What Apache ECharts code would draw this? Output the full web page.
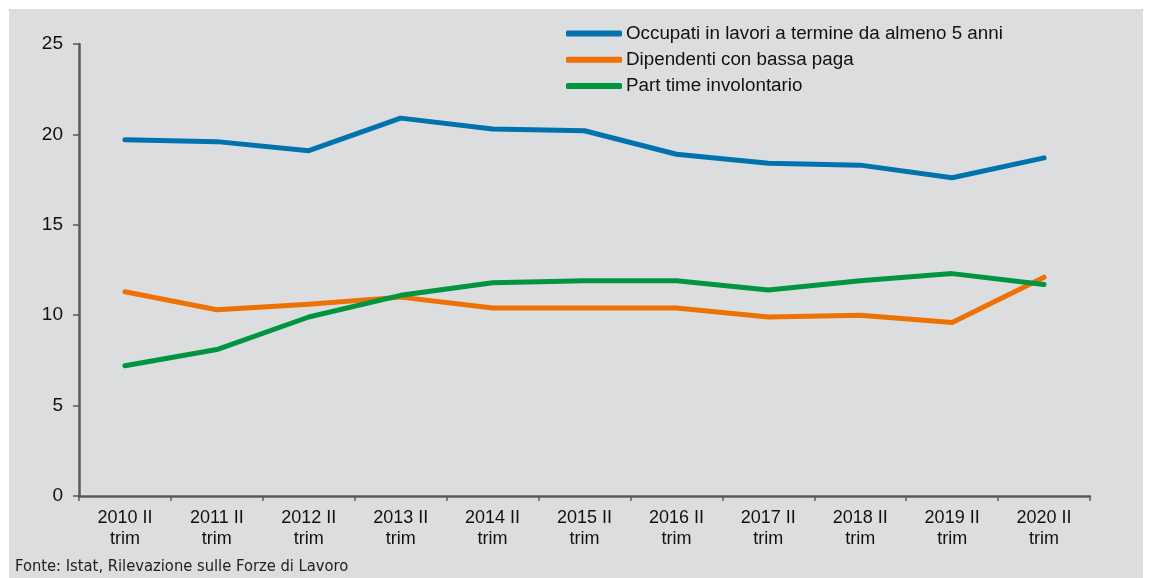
<!DOCTYPE html>
<html>
<head>
<meta charset="utf-8">
<script src="https://cdn.jsdelivr.net/npm/echarts@6/dist/echarts.min.js"></script>
<style>
  html, body { margin: 0; padding: 0; background: #fff; }
  #wrap { position: absolute; left: 0; top: 0; width: 1149px; height: 578px; background: #fff; }
  #chart { position: absolute; left: 9px; top: 9px; width: 1134px; height: 569px; }
</style>
</head>
<body>
<div id="wrap"><div id="chart"></div></div>
<script>
// trimestri
var anni = ['2010 II\ntrim', '2011 II\ntrim', '2012 II\ntrim', '2013 II\ntrim', '2014 II\ntrim',
            '2015 II\ntrim', '2016 II\ntrim', '2017 II\ntrim', '2018 II\ntrim', '2019 II\ntrim', '2020 II\ntrim'];
var occupati = [19.7, 19.6, 19.1, 20.9, 20.3, 20.2, 18.9, 18.4, 18.3, 17.6, 18.7];
var bassaPaga = [11.3, 10.3, 10.6, 11.0, 10.4, 10.4, 10.4, 9.9, 10.0, 9.6, 12.1];
var partTime = [7.2, 8.1, 9.9, 11.1, 11.8, 11.9, 11.9, 11.4, 11.9, 12.3, 11.7];
var nomi = ['Occupati in lavori a termine da almeno 5 anni', 'Dipendenti con bassa paga', 'Part time involontario'];
var colori = ['#0072AD', '#EE7203', '#00963F'];

var FONT = '"Liberation Sans", Arial, sans-serif';
var myChart = echarts.init(document.getElementById('chart'));

function linea(nome, dati, col) {
    return {
        name: nome,
        type: 'line',
        data: dati,
        symbol: 'none',
        lineStyle: { color: col, width: 5, cap: 'round', join: 'round' },
        itemStyle: { color: col }
    };
}

myChart.setOption({
    backgroundColor: '#DCDDDF',
    animation: false,
    textStyle: { fontFamily: FONT },
    grid: { left: 70, right: 53, top: 35, bottom: 82 },
    legend: {
        orient: 'vertical',
        left: 557,
        top: 15,
        padding: 0,
        itemWidth: 56,
        itemHeight: 6,
        itemGap: 7.2,
        icon: 'roundRect',
        textStyle: { fontFamily: FONT, fontSize: 18.8, color: '#111', lineHeight: 18.5, padding: [0, 0, 0, -1] },
        data: nomi
    },
    xAxis: {
        type: 'category',
        data: anni,
        boundaryGap: true,
        axisLine: { lineStyle: { color: '#595959', width: 2.5 } },
        axisTick: { show: true, length: 5, lineStyle: { color: '#595959', width: 1.5 } },
        axisLabel: { fontFamily: FONT, fontSize: 18, color: '#111', lineHeight: 21, margin: 12, interval: 0 },
        splitLine: { show: false }
    },
    yAxis: {
        type: 'value',
        min: 0,
        max: 25,
        interval: 5,
        axisLine: { show: true, lineStyle: { color: '#595959', width: 2.5 } },
        axisTick: { show: true, length: 6, lineStyle: { color: '#595959', width: 1.5 } },
        axisLabel: { fontFamily: FONT, fontSize: 19, color: '#111', margin: 16 },
        splitLine: { show: false }
    },
    graphic: [{
        type: 'text',
        left: 6,
        top: 550,
        style: {
            text: 'Fonte: Istat, Rilevazione sulle Forze di Lavoro',
            font: '16.4px "Liberation Sans Narrow", "DejaVu Sans Condensed", sans-serif',
            fill: '#222'
        }
    }],
    series: [
        linea(nomi[0], occupati, colori[0]),
        linea(nomi[1], bassaPaga, colori[1]),
        linea(nomi[2], partTime, colori[2])
    ]
});
</script>
</body>
</html>
